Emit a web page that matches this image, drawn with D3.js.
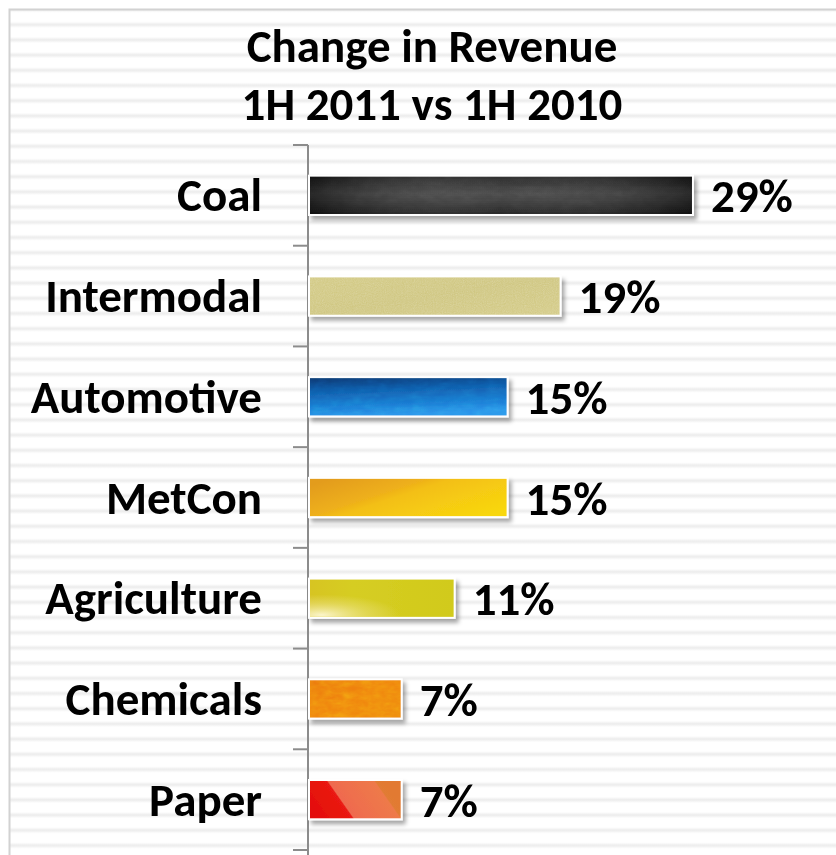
<!DOCTYPE html>
<html>
<head>
<meta charset="utf-8">
<script src="https://cdn.jsdelivr.net/npm/d3@7"></script>
<style>
  html, body { margin: 0; padding: 0; background: #fff; }
  svg { display: block; }
  text { font-family: Carlito, Lato, "Open Sans", sans-serif; font-weight: 700; fill: #000; }
</style>
</head>
<body>
<svg id="chart" width="836" height="855"></svg>
<script>
// ---- data ----
const categories = ["Coal", "Intermodal", "Automotive", "MetCon", "Agriculture", "Chemicals", "Paper"];
const values = [29, 19, 15, 15, 11, 7, 7];
const valueLabels = ["29%", "19%", "15%", "15%", "11%", "7%", "7%"];
const titleLines = ["Change in Revenue", "1H 2011 vs 1H 2010"];
const barFills = ["coal", "intermodal", "automotive", "metcon", "agriculture", "chemicals", "paper"];

const W = 836, H = 855;
const svg = d3.select("#chart");
const defs = svg.append("defs");

// background stripes
const pat = defs.append("pattern").attr("id", "stripes")
  .attr("patternUnits", "userSpaceOnUse").attr("width", 10).attr("height", 15.2);
const sg = defs.append("linearGradient").attr("id", "stripeGrad").attr("x1", 0).attr("y1", 0).attr("x2", 0).attr("y2", 1);
sg.append("stop").attr("offset", 0).attr("stop-color", "#fff");
sg.append("stop").attr("offset", 0.5).attr("stop-color", "#ebebeb");
sg.append("stop").attr("offset", 1).attr("stop-color", "#fff");
pat.append("rect").attr("width", 10).attr("height", 15.2).attr("fill", "#fff");
pat.append("rect").attr("y", 6.5).attr("width", 10).attr("height", 6).attr("fill", "url(#stripeGrad)");

// drop shadow
const sh = defs.append("filter").attr("id", "shadow").attr("x", "-10%").attr("y", "-30%").attr("width", "130%").attr("height", "180%");
sh.append("feDropShadow").attr("dx", 3).attr("dy", 4).attr("stdDeviation", 2).attr("flood-color", "#000").attr("flood-opacity", 0.35);

// noise filters
function noiseFilter(id, freq, oct) {
  const f = defs.append("filter").attr("id", id).attr("x", 0).attr("y", 0).attr("width", "100%").attr("height", "100%");
  f.append("feTurbulence").attr("type", "fractalNoise").attr("baseFrequency", freq).attr("numOctaves", oct).attr("seed", 3).attr("result", "t");
  f.append("feColorMatrix").attr("in", "t").attr("type", "saturate").attr("values", 0).attr("result", "g");
  f.append("feComposite").attr("in", "g").attr("in2", "SourceAlpha").attr("operator", "in");
}
noiseFilter("noiseFine", "0.9", 2);
noiseFilter("noiseCoarse", "0.08 0.15", 3);

function lin(id, attrs, stops) {
  const g = defs.append("linearGradient").attr("id", id);
  Object.entries(attrs).forEach(([k, v]) => g.attr(k, v));
  stops.forEach(s => g.append("stop").attr("offset", s[0]).attr("stop-color", s[1]));
}
lin("coal", {x1: 0, y1: 0, x2: 0, y2: 1}, [[0, "#1a1a1a"], [0.45, "#3a3a3a"], [0.7, "#2c2c2c"], [1, "#141414"]]);
lin("coalH", {x1: 0, y1: 0, x2: 1, y2: 0}, [[0, "rgba(0,0,0,0.35)"], [0.5, "rgba(255,255,255,0.08)"], [1, "rgba(0,0,0,0.3)"]]);
lin("intermodal", {x1: 0, y1: 0, x2: 1, y2: 1}, [[0, "#d3ca84"], [0.5, "#cfc680"], [1, "#d4cb86"]]);
lin("automotive", {x1: 0, y1: 0, x2: 0.2, y2: 1}, [[0, "#08356a"], [0.35, "#0f5aa8"], [0.75, "#1a7bd4"], [1, "#2b93ea"]]);
lin("metcon", {x1: 0, y1: 0.2, x2: 1, y2: 0.8}, [[0, "#e39c1c"], [0.35, "#eeb01a"], [0.45, "#f3bf16"], [0.7, "#f6cb12"], [1, "#f8d70f"]]);
lin("agriculture", {x1: 0, y1: 0, x2: 1, y2: 0}, [[0, "#d7c421"], [0.3, "#d6cd22"], [1, "#d1ca1c"]]);
lin("chemicals", {x1: 0, y1: 0, x2: 1, y2: 1}, [[0, "#ec7a0c"], [0.5, "#f0820e"], [1, "#ee8610"]]);
lin("paper", {x1: 0, y1: 1, x2: 1, y2: 0.703}, [[0, "#e20a0a"], [0.44, "#ea1a12"], [0.455, "#ef6a4f"], [0.91, "#ee7a4a"], [0.925, "#e17b34"], [1, "#e27a32"]]);
const ag = defs.append("radialGradient").attr("id", "agriLight").attr("cx", 0.08).attr("cy", 0.95).attr("r", 0.55);
ag.append("stop").attr("offset", 0).attr("stop-color", "rgba(255,250,220,0.9)");
ag.append("stop").attr("offset", 0.6).attr("stop-color", "rgba(240,230,150,0.4)");
ag.append("stop").attr("offset", 1).attr("stop-color", "rgba(240,230,150,0)");

// frame + stripes
svg.append("rect").attr("width", W).attr("height", H).attr("fill", "#fff");
svg.append("rect").attr("x", 10).attr("y", 10).attr("width", W).attr("height", H).attr("fill", "url(#stripes)");
svg.append("path").attr("d", `M9.5,${H} V9.5 H${W}`).attr("fill", "none").attr("stroke", "#d2d2d2").attr("stroke-width", 2);

// scales
const y = d3.scaleBand().domain(categories).range([145, 850]).paddingInner(0).paddingOuter(0);
const x = d3.scaleLinear().domain([0, 35]).range([309, 309 + 13.24 * 35]);
const barH = y.bandwidth() * 0.39;

// title
svg.append("g").selectAll("text").data(titleLines).join("text")
  .attr("x", 432).attr("y", (d, i) => 62 + i * 58)
  .attr("text-anchor", "middle").attr("font-size", 47).text(d => d);

// axis
const axis = d3.axisLeft(y).tickSize(15).tickFormat("");
const ag2 = svg.append("g").attr("transform", "translate(308,0)").call(axis);
ag2.select(".domain").attr("stroke", "#8c8c8c").attr("stroke-width", 2).attr("d", `M0,145 V${H}`);
ag2.selectAll(".tick").remove();
const tickPositions = categories.map(c => y(c)).concat([y.range()[1]]);
ag2.selectAll("line.tk").data(tickPositions).join("line").attr("class", "tk")
  .attr("x1", -15).attr("x2", 0).attr("y1", d => d).attr("y2", d => d)
  .attr("stroke", "#8c8c8c").attr("stroke-width", 2);

// category labels
svg.append("g").selectAll("text").data(categories).join("text")
  .attr("x", 262).attr("y", d => y(d) + y.bandwidth() / 2 + 16)
  .attr("text-anchor", "end").attr("font-size", 47).text(d => d);

// bars
const rows = categories.map((c, i) => ({c, v: values[i], lab: valueLabels[i], fill: barFills[i]}));
const bars = svg.append("g").selectAll("g").data(rows).join("g");
const by = d => y(d.c) + (y.bandwidth() - barH) / 2;
bars.append("rect")
  .attr("x", x(0)).attr("y", by).attr("width", d => x(d.v) - x(0)).attr("height", barH)
  .attr("fill", d => `url(#${d.fill})`).attr("stroke", "#fff").attr("stroke-width", 2)
  .attr("filter", "url(#shadow)");

// texture overlays
function overlay(sel, fill, filter, opacity, blend) {
  sel.append("rect")
    .attr("x", x(0) + 1).attr("y", d => by(d) + 1).attr("width", d => x(d.v) - x(0) - 2).attr("height", barH - 2)
    .attr("fill", fill).attr("filter", filter).attr("opacity", opacity).style("mix-blend-mode", blend);
}
const f = name => bars.filter(d => d.fill === name);
overlay(f("coal"), "url(#coalH)", null, 1, "normal");
overlay(f("coal"), "#fff", "url(#noiseCoarse)", 0.25, "overlay");
overlay(f("intermodal"), "#fff", "url(#noiseFine)", 0.4, "overlay");
overlay(f("chemicals"), "#fff", "url(#noiseCoarse)", 0.5, "overlay");
overlay(f("agriculture"), "url(#agriLight)", null, 1, "normal");
overlay(f("automotive"), "#fff", "url(#noiseCoarse)", 0.3, "overlay");

// value labels
bars.append("text")
  .attr("x", d => x(d.v) + 18).attr("y", d => y(d.c) + y.bandwidth() / 2 + 17)
  .attr("font-size", 47).text(d => d.lab);
</script>
</body>
</html>
